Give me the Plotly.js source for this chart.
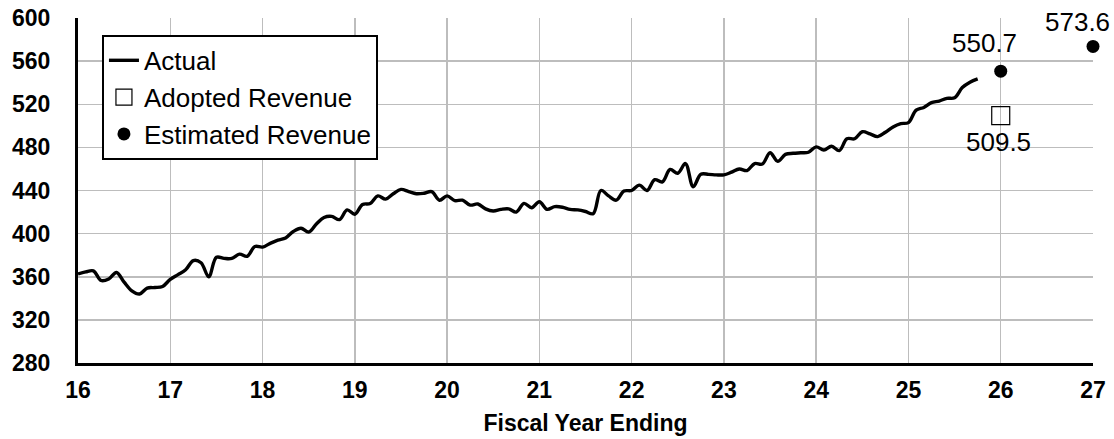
<!DOCTYPE html>
<html>
<head>
<meta charset="utf-8">
<script src="https://cdn.plot.ly/plotly-3.0.1.min.js"></script>
<style>html,body{margin:0;padding:0;background:#fff}#chart{width:1114px;height:439px}</style>
</head>
<body>
<div id="chart"></div>
<script>
// Monthly actual revenue, starting fiscal year 16.0, one value per month
const startYear = 16;
const actualValues = [
  362.6, 364.5, 365.5, 356.5, 358, 364, 355, 347, 344, 349.5, 350, 351,
  357.6, 362, 366.5, 375, 373, 360, 378, 377, 377, 381, 379, 388,
  387.5, 391, 394, 396, 402, 405, 401.5, 409, 415, 416, 413, 422,
  418, 427, 428, 435, 432, 437, 441, 439, 437, 437.5, 439, 431,
  435, 430.6, 431, 426.5, 427.5, 423, 421, 422.5, 423, 420, 428, 424,
  429.6, 422.5, 425, 424.5, 422.5, 422, 420.5, 418.5, 440, 435, 431, 439.5,
  440, 445, 440, 450, 448, 459.5, 456, 465, 443.5, 455, 455, 454.5,
  454.5, 457, 460, 458.5, 465, 464.5, 475, 467, 473.5, 474.5, 475, 475.5,
  480.5, 477.5, 481, 477, 488, 488, 494.5, 492.5, 490, 494, 499, 502,
  503, 514.5, 517, 521.5, 523, 525.5, 526, 535.5, 540.5, 543.5
];
const actualX = actualValues.map((v, i) => startYear + i / 12);

const adoptedYears = [26];
const adoptedValues = [509.5];
const estimatedYears = [26, 27];
const estimatedValues = [550.7, 573.6];

const xTicks = [16,17,18,19,20,21,22,23,24,25,26,27];
const yTicks = [280,320,360,400,440,480,520,560,600];

const FONT = 'Liberation Sans, Arial, sans-serif';

const traces = [
  {x: actualX, y: actualValues, type: 'scatter', mode: 'lines', name: 'Actual',
   line: {color: '#000', width: 3.4, shape: 'spline', smoothing: 1.0}},
  {x: adoptedYears, y: adoptedValues, type: 'scatter', mode: 'markers', name: 'Adopted Revenue',
   cliponaxis: false,
   marker: {symbol: 'square-open', size: 18, color: '#000', line: {width: 1.2, color: '#000'}}},
  {x: estimatedYears, y: estimatedValues, type: 'scatter', mode: 'markers', name: 'Estimated Revenue',
   cliponaxis: false,
   marker: {symbol: 'circle', size: 13, color: '#000'}}
];

const annotations = [];
estimatedYears.forEach((yr, i) => {
  annotations.push({x: yr, y: estimatedValues[i], text: estimatedValues[i].toFixed(1),
    showarrow: false, xshift: -16, yshift: i === 0 ? 28 : 24,
    font: {family: FONT, size: 26, color: '#000'}});
});
adoptedYears.forEach((yr, i) => {
  annotations.push({x: yr, y: adoptedValues[i], text: adoptedValues[i].toFixed(1),
    showarrow: false, xshift: -2, yshift: -26,
    font: {family: FONT, size: 26, color: '#000'}});
});

const layout = {
  width: 1114, height: 439,
  margin: {l: 78, r: 21, t: 18, b: 76},
  paper_bgcolor: '#fff', plot_bgcolor: '#fff',
  font: {family: FONT, color: '#000'},
  showlegend: true,
  legend: {
    x: 0.0236, y: 0.951, xanchor: 'left', yanchor: 'top',
    bgcolor: '#fff', bordercolor: '#000', borderwidth: 2,
    font: {family: FONT, size: 26, color: '#000'},
    itemwidth: 30, tracegroupgap: 0
  },
  xaxis: {
    range: [16, 27], tickvals: xTicks, ticktext: xTicks.map(String),
    showgrid: true, gridcolor: '#bdbdbd', gridwidth: 1.5,
    showline: true, linecolor: '#000', linewidth: 3,
    zeroline: false, ticks: 'outside', ticklen: 4, tickcolor: 'rgba(0,0,0,0)',
    tickfont: {family: FONT, size: 23, color: '#000', weight: 'bold'},
    title: {text: '<b>Fiscal Year Ending</b>', font: {family: FONT, size: 23, color: '#000'}, standoff: 14},
    automargin: false
  },
  yaxis: {
    range: [280, 600], tickvals: yTicks, ticktext: yTicks.map(String),
    showgrid: true, gridcolor: '#bdbdbd', gridwidth: 1.5,
    showline: true, linecolor: '#000', linewidth: 3,
    zeroline: false, ticks: 'outside', ticklen: 20, tickcolor: 'rgba(0,0,0,0)',
    tickfont: {family: FONT, size: 23, color: '#000', weight: 'bold'},
    automargin: false
  },
  annotations: annotations
};

Plotly.newPlot('chart', traces, layout, {displayModeBar: false, staticPlot: true});
</script>
</body>
</html>
